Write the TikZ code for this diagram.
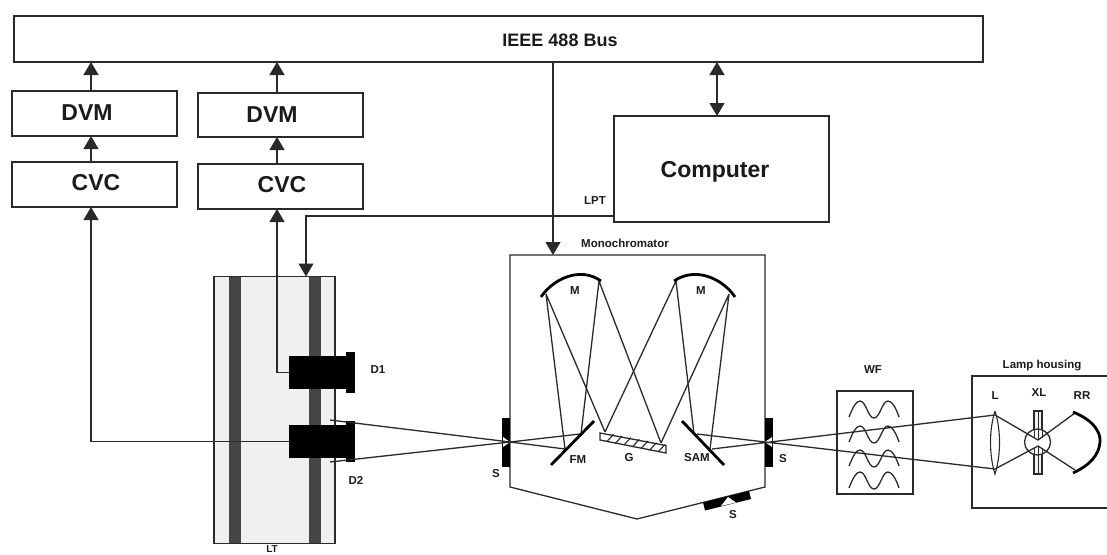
\documentclass[tikz,border=0pt]{standalone}
\usepackage{fontspec}
\setmainfont{Liberation Sans}
\usetikzlibrary{arrows.meta,calc}
\definecolor{ink}{HTML}{2A2A2A}
\definecolor{labelink}{HTML}{1A1A1A}
\definecolor{bar}{HTML}{454545}
\definecolor{pale}{HTML}{F0F0F0}
\tikzset{
 box/.style={draw=ink,line width=1.3pt,fill=white,inner sep=0pt,outer sep=0pt,rectangle},
 biglabel/.style={font=\bfseries\fontsize{23}{25}\selectfont,text=labelink,inner sep=0pt},
 buslabel/.style={font=\bfseries\fontsize{18}{20}\selectfont,text=labelink,inner sep=0pt},
 smalllabel/.style={font=\bfseries\fontsize{11.5}{13}\selectfont,text=labelink,inner sep=0pt},
 conn/.style={draw=ink,line width=1.2pt},
 arr/.style={conn,-{Triangle[length=13pt,width=15pt]}},
 darr/.style={conn,{Triangle[length=13pt,width=15pt]}-{Triangle[length=13pt,width=15pt]}},
 ray/.style={draw=ink,line width=1.3pt},
 mirror/.style={draw=black,line width=2.8pt},
 thin outline/.style={draw=ink,line width=1.3pt},
 darkbar/.style={fill=bar,draw=none},
 solid part/.style={fill=black,draw=none}
}
\begin{document}
\begin{tikzpicture}[x=1pt,y=-1pt]
\useasboundingbox (0,0) rectangle (1107,554);
% boxes
\node[box,minimum width=969pt,minimum height=46pt] (bus) at (498.5,39) {};
\node[box,minimum width=165pt,minimum height=45pt] (dvma) at (94.5,113.5) {};
\node[box,minimum width=165pt,minimum height=45pt] (cvca) at (94.5,184.5) {};
\node[box,minimum width=165pt,minimum height=44pt] (dvmb) at (280.5,115) {};
\node[box,minimum width=165pt,minimum height=45pt] (cvcb) at (280.5,186.5) {};
\node[box,minimum width=215pt,minimum height=106pt] (comp) at (721.5,169) {};
\node[buslabel] (tbus) at (560,40) {IEEE 488 Bus};
\node[biglabel] (t1) at (87,113) {DVM};
\node[biglabel] (t2) at (96,183) {CVC};
\node[biglabel] (t3) at (272,115) {DVM};
\node[biglabel] (t4) at (282,185) {CVC};
\node[biglabel] (t5) at (715,172) {Computer};
\node[smalllabel] (tlpt) at (595,201) {LPT};
% LT
\node[box,draw=ink,fill=pale,minimum width=121pt,minimum height=267pt] (lt) at (274.5,410) {};
\fill[darkbar] (229,277) rectangle (241,543);
\fill[darkbar] (309,277) rectangle (321,543);
\node[smalllabel,font=\bfseries\fontsize{10}{11}\selectfont] (tlt) at (272,549) {LT};
% detectors
\node[solid part,minimum width=57pt,minimum height=33pt,inner sep=0pt,outer sep=0pt] (d1) at (317.5,372.5) {};
\node[solid part,minimum width=9pt,minimum height=41pt,inner sep=0pt] (d1c) at (350.5,372.5) {};
\node[solid part,minimum width=57pt,minimum height=33pt,inner sep=0pt,outer sep=0pt] (d2) at (317.5,441.5) {};
\node[solid part,minimum width=9pt,minimum height=41pt,inner sep=0pt] (d2c) at (350.5,441.5) {};
\node[smalllabel] (td1) at (378,370) {D1};
\node[smalllabel] (td2) at (356,480) {D2};
% monochromator
\coordinate (ma) at (510,255); \coordinate (mb) at (765,255);
\coordinate (mc) at (765,487); \coordinate (md) at (637,519); \coordinate (me) at (510,487);
\draw[thin outline] (ma) -- (mb) -- (mc) -- (md) -- (me) -- cycle;
\node[smalllabel] (tmono) at (625,243) {Monochromator};
% connectors
\coordinate (xa) at (91,0); \coordinate (xb) at (277,0); \coordinate (xc) at (553,0);
\coordinate (xd) at (717,0); \coordinate (xe) at (306,0); \coordinate (ylpt) at (0,216);
\draw[arr] (dvma.north -| xa) -- (bus.south -| xa);
\draw[arr] (cvca.north -| xa) -- (dvma.south -| xa);
\draw[arr] (dvmb.north -| xb) -- (bus.south -| xb);
\draw[arr] (cvcb.north -| xb) -- (dvmb.south -| xb);
\draw[arr] (d2.west) -- (d2.west -| xa) -- (cvca.south -| xa);
\draw[arr] (d1.west) -- (d1.west -| xb) -- (cvcb.south -| xb);
\draw[arr] (bus.south -| xc) -- (ma -| xc);
\draw[darr] (bus.south -| xd) -- (comp.north -| xd);
\draw[arr] (comp.west |- ylpt) -- (ylpt -| xe) -- (lt.north -| xe);
% slits
\fill[black] (502,418) rectangle (510,467);
\fill[black] (765,418) rectangle (773,467);
\fill[white] (510,442) -- (503,437) -- (503,447) -- cycle;
\fill[white] (765,442) -- (772,437) -- (772,447) -- cycle;
\node[smalllabel] (ts1) at (496,474) {S};
\node[smalllabel] (ts2) at (783,459) {S};
% bottom slit
\fill[black] (703,502.5) -- (749,491) -- (751,499) -- (705,510.5) -- cycle;
\fill[white] (728,497) -- (736,502.5) -- (721,506) -- cycle;
\node[smalllabel] (ts3) at (733,515) {S};
% rays detector - slit - FM etc
\draw[ray] (330,420) -- (510,442) -- (330,462);
\draw[ray] (510,442) -- (580,434) (510,442) -- (565,449);
\draw[ray] (546,294) -- (565,449) (546,294) -- (605,432);
\draw[ray] (599,281) -- (581,434) (599,281) -- (661,443);
\draw[ray] (676,281) -- (605,432) (676,281) -- (694,434);
\draw[ray] (729,294) -- (661,443) (729,294) -- (710,449);
\draw[ray] (697,434) -- (995,469) (712,449) -- (995,415);
% mirrors
\draw[mirror] (551,465) -- (594,421);
\draw[mirror] (682,421) -- (724,465);
\draw[mirror] (541,297) .. controls (553,279) and (580,266) .. (601,281);
\draw[mirror] (735,297) .. controls (723,279) and (696,266) .. (674,281);
\node[smalllabel] (tm1) at (575,291) {M};
\node[smalllabel] (tm2) at (701,291) {M};
\node[smalllabel] (tfm) at (578,460) {FM};
\node[smalllabel] (tg) at (629,458) {G};
\node[smalllabel] (tsam) at (697,458) {SAM};
% grating
\draw[thin outline,fill=white] (600,433) -- (666,445.5) -- (666,453) -- (600,440) -- cycle;
\foreach \t in {0.1,0.23,...,0.95}{
 \draw[ink,line width=1.1pt] ($(600,440.5)!\t!(666,453.5)$) -- ++(7,-7.5);
}
% WF
\node[box,minimum width=76pt,minimum height=103pt,fill=none] (wf) at (875,442.5) {};
\node[smalllabel] (twf) at (873,370) {WF};
\foreach \y in {0,25,49,71}{
 \draw[ink,line width=1.3pt,yshift=-\y pt] (849,417) .. controls (853,407) and (856,401) .. (860,401)
   .. controls (866,401) and (868,418) .. (874,418)
   .. controls (880,418) and (882,401) .. (888,401)
   .. controls (892,401) and (896,408) .. (899,417);
}
% lamp housing
\draw[thin outline] (1107,376) -- (972,376) -- (972,508) -- (1107,508);
\node[smalllabel] (tlh) at (1042,366) {Lamp housing};
\node[smalllabel] (tl) at (995,396) {L};
\node[smalllabel] (txl) at (1039,393) {XL};
\node[smalllabel] (trr) at (1082,396) {RR};
\draw[ink,line width=1.1pt] (995,411) .. controls (989,430) and (989,455) .. (995,474)
  .. controls (1001,455) and (1001,430) .. (995,411);
\draw[thin outline,fill=pale] (1034,411) rectangle (1042,474);
\draw[ink,line width=1pt] (1038,411) -- (1038,474);
\draw[thin outline,fill=white] (1037.5,442) circle (13);
\draw[ray] (995,415) -- (1038,440) -- (1075,413);
\draw[ray] (995,469) -- (1038,446) -- (1075,470);
\draw[ink,line width=1pt] (1034,430) -- (1034,437.7) (1038,429) -- (1038,440) (1042,430) -- (1042,437.7);
\draw[ink,line width=1pt] (1034,454) -- (1034,448) (1038,455) -- (1038,446) (1042,454) -- (1042,448);
\draw[mirror] (1073,412) .. controls (1093,420) and (1101,432) .. (1100,442) .. controls (1099,455) and (1090,465) .. (1073,473);
\end{tikzpicture}
\end{document}
